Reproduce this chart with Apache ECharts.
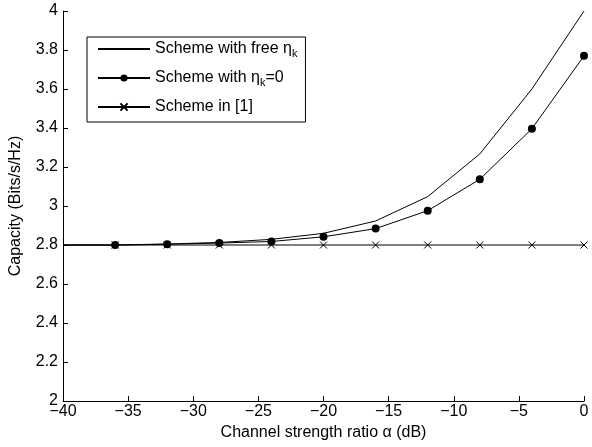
<!DOCTYPE html>
<html>
<head>
<meta charset="utf-8">
<script src="https://cdn.jsdelivr.net/npm/echarts@6/dist/echarts.min.js"></script>
<style>html,body{margin:0;padding:0;background:#fff}#c{width:592px;height:447px}</style>
</head>
<body>
<div id="c"></div>
<script>
const xValues = [-40, -36, -32, -28, -24, -20, -16, -12, -8, -4, 0];
const freeEta = [2.80, 2.80, 2.805, 2.813, 2.829, 2.86, 2.923, 3.048, 3.267, 3.60, 4.00];
const zeroEta = [2.80, 2.80, 2.804, 2.81, 2.818, 2.842, 2.884, 2.976, 3.137, 3.396, 3.77];
const ref1 = [2.80, 2.80, 2.80, 2.80, 2.80, 2.80, 2.80, 2.80, 2.80, 2.80, 2.80];
const seriesNames = ['Scheme with free ηk', 'Scheme with ηk=0', 'Scheme in [1]'];

const font = 'Liberation Sans, Arial, sans-serif';
const fs = 16;
function pts(arr, hideFirst) {
  return xValues.map((x, i) => {
    const o = { value: [x, arr[i]] };
    if (hideFirst && i === 0) o.symbol = 'none';
    return o;
  });
}
const crossPath = 'path://M0,0L10,10M10,0L0,10';
const chart = echarts.init(document.getElementById('c'));
chart.setOption({
  animation: false,
  backgroundColor: '#fff',
  grid: { left: 63, right: 8, top: 11, bottom: 46 },
  xAxis: {
    type: 'value', min: -40, max: 0, interval: 5,
    name: 'Channel strength ratio α (dB)', nameLocation: 'middle', nameGap: 23,
    nameTextStyle: { fontFamily: font, fontSize: fs, color: '#000' },
    axisLine: { onZero: false, lineStyle: { color: '#000', width: 1 } },
    axisTick: { inside: true, length: 5, lineStyle: { color: '#000' } },
    axisLabel: { fontFamily: font, fontSize: fs, color: '#000', margin: 3,
      formatter: v => String(v).replace('-', '\u2212') },
    splitLine: { show: false }
  },
  yAxis: {
    type: 'value', min: 2, max: 4, interval: 0.2,
    name: 'Capacity (Bits/s/Hz)', nameLocation: 'middle', nameGap: 39, nameRotate: 90,
    nameTextStyle: { fontFamily: font, fontSize: fs, color: '#000' },
    axisLine: { show: true, onZero: false, lineStyle: { color: '#000', width: 1 } },
    axisTick: { show: true, inside: true, length: 5, lineStyle: { color: '#000' } },
    axisLabel: { fontFamily: font, fontSize: fs, color: '#000', margin: 5 },
    splitLine: { show: false }
  },
  legend: {
    orient: 'vertical', left: 87, top: 37,
    backgroundColor: '#fff', borderColor: '#000', borderWidth: 1,
    padding: [4, 8, 7, 10], itemGap: 11, itemWidth: 52, itemHeight: 9,
    data: [
      { name: seriesNames[0], itemStyle: { opacity: 0 } },
      { name: seriesNames[1] },
      { name: seriesNames[2] }
    ],
    formatter: function (name) {
      if (name === seriesNames[0]) return '{t|Scheme with free η}{s|k}';
      if (name === seriesNames[1]) return '{t|Scheme with η}{s|k}{t|=0}';
      return '{t|' + name + '}';
    },
    textStyle: {
      fontFamily: font, fontSize: fs, color: '#000',
      rich: {
        t: { fontFamily: font, fontSize: fs, color: '#000', lineHeight: 20, verticalAlign: 'middle' },
        s: { fontFamily: font, fontSize: 11, color: '#000', lineHeight: 11, verticalAlign: 'bottom' }
      }
    }
  },
  series: [
    {
      name: seriesNames[0], type: 'line', data: pts(freeEta), symbol: 'none',
      lineStyle: { color: '#000', width: 1 }, itemStyle: { color: '#000' }, z: 3
    },
    {
      name: seriesNames[1], type: 'line', data: pts(zeroEta, true), symbol: 'circle', symbolSize: 8,
      lineStyle: { color: '#000', width: 1 }, itemStyle: { color: '#000' }, z: 4
    },
    {
      name: seriesNames[2], type: 'line', data: pts(ref1, true), symbol: crossPath, symbolSize: 7,
      lineStyle: { color: '#000', width: 1 },
      itemStyle: { color: 'none', borderColor: '#000', borderWidth: 1 }, z: 2
    }
  ]
});
</script>
</body>
</html>
